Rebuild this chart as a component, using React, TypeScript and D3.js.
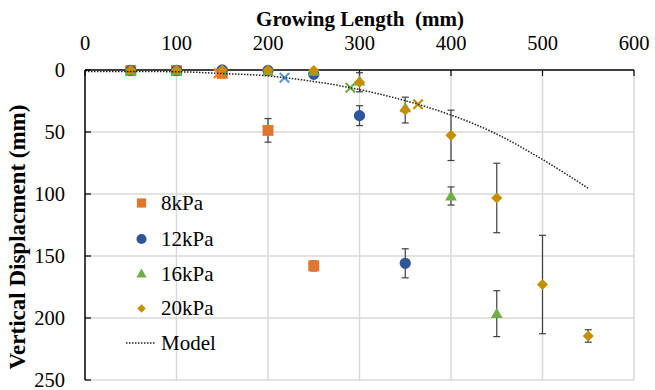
import React from "react";
import * as d3 from "d3";

const xTicks = [0, 100, 200, 300, 400, 500, 600];
const yTicks = [0, 50, 100, 150, 200, 250];

const x8 = [50, 100, 150, 200, 250];
const y8 = [0.5, 0.5, 2.7, 48.7, 158];
const e8 = [0, 0, 0, 9.5, 4];

const x12 = [50, 100, 150, 200, 250, 300, 350];
const y12 = [0.3, 0.3, 0, 0.3, 3.5, 36.8, 155.9];
const e12 = [0, 0, 0, 0, 0, 8, 11.7];

const x16 = [50, 100, 150, 200, 250, 300, 350, 400, 450];
const y16 = [0.5, 0.5, 1, 1, 1, 9, 30.5, 101.6, 196.5];
const e16 = [0, 0, 0, 0, 0, 0, 0, 7.3, 18.5];

const x20 = [50, 100, 150, 200, 250, 300, 350, 400, 450, 500, 550];
const y20 = [0, 0, 0, 0, 0.5, 9.9, 32.3, 52.7, 103.2, 173, 214.5];
const e20 = [0, 0, 0, 0, 0, 7.7, 10.4, 20.3, 28, 39.7, 5];

const modelX = [0, 50, 100, 146, 200, 218, 290, 364, 400, 448, 501, 550];
const modelY = [1.2, 1.2, 1.4, 2.7, 4.8, 6.2, 14.3, 27.7, 36.3, 51, 72.6, 95.4];

const crossX = [146, 218, 290, 364];
const crossY = [2.7, 6.2, 14.3, 27.7];
const crossColors = ["#ED7D31", "#5B9BD5", "#70AD47", "#BF9000"];

const seriesNames = ["8kPa", "12kPa", "16kPa", "20kPa"];
const colors = ["#E0762F", "#2F559A", "#70AD47", "#C49000"];
const shapes = [d3.symbolSquare, d3.symbolCircle, d3.symbolTriangle, d3.symbolSquare];

const W = 655, H = 390;
const FONT = "Liberation Serif, Times New Roman, serif";

export default function App() {
  const x = d3.scaleLinear().domain([0, 600]).range([85, 634]);
  const y = d3.scaleLinear().domain([0, 250]).range([70, 380]);

  const series = [
    { xs: x8, ys: y8, es: e8 },
    { xs: x12, ys: y12, es: e12 },
    { xs: x16, ys: y16, es: e16 },
    { xs: x20, ys: y20, es: e20 },
  ];
  const sizes = [120, 100, 60, 62];
  const legendSizes = [85, 80, 45, 36];

  const modelLine = d3
    .line<number>()
    .x((_, i) => x(modelX[i]))
    .y((d) => y(d))
    .curve(d3.curveMonotoneX)(modelY) as string;

  const legendY = [203, 239, 274.5, 308.5];
  const tf = { fontFamily: FONT };

  return (
    <svg width={W} height={H} style={{ position: "absolute", left: 0, top: 0, background: "#fff", fontFamily: FONT }}>
      {/* gridlines */}
      {xTicks.slice(1).map((t) => (
        <line key={"gx" + t} x1={x(t)} x2={x(t)} y1={y(0)} y2={y(250)} stroke="#d9d9d9" strokeWidth={1.5} />
      ))}
      {yTicks.slice(1).map((t) => (
        <line key={"gy" + t} x1={x(0)} x2={x(600)} y1={y(t)} y2={y(t)} stroke="#d9d9d9" strokeWidth={1.5} />
      ))}
      {/* axes */}
      <line x1={x(0)} x2={x(600)} y1={y(0)} y2={y(0)} stroke="#000" strokeWidth={1.5} />
      <line x1={x(0)} x2={x(0)} y1={y(0)} y2={y(250)} stroke="#000" strokeWidth={1.5} />
      {xTicks.map((t) => (
        <line key={"tx" + t} x1={x(t)} x2={x(t)} y1={y(0)} y2={y(0) + 6} stroke="#000" strokeWidth={1.2} />
      ))}
      {yTicks.map((t) => (
        <line key={"ty" + t} x1={x(0)} x2={x(0) + 6} y1={y(t)} y2={y(t)} stroke="#000" strokeWidth={1.2} />
      ))}
      {xTicks.map((t) => (
        <text key={"lx" + t} x={x(t)} y={50} fontSize={20.5} textAnchor="middle" fill="#000" style={tf}>
          {t}
        </text>
      ))}
      {yTicks.map((t) => (
        <text key={"ly" + t} x={65} y={y(t) + 7} fontSize={20.5} textAnchor="end" fill="#000" style={tf}>
          {t}
        </text>
      ))}
      <text x={360} y={25.5} fontSize={21} fontWeight="bold" textAnchor="middle" style={tf}>
        Growing Length&#160;&#160;(mm)
      </text>
      <text
        transform={`translate(25,237) rotate(-90)`}
        fontSize={23}
        fontWeight="bold"
        textAnchor="middle"
        style={tf}
      >
        Vertical Displacment (mm)
      </text>

      {/* error bars */}
      {series.map((s, si) =>
        s.xs.map((xv, i) =>
          s.es[i] > 0 ? (
            <g key={`e${si}-${i}`} stroke="#404040" strokeWidth={1.2}>
              <line x1={x(xv)} x2={x(xv)} y1={y(s.ys[i] - s.es[i])} y2={y(s.ys[i] + s.es[i])} />
              <line x1={x(xv) - 3.5} x2={x(xv) + 3.5} y1={y(s.ys[i] - s.es[i])} y2={y(s.ys[i] - s.es[i])} />
              <line x1={x(xv) - 3.5} x2={x(xv) + 3.5} y1={y(s.ys[i] + s.es[i])} y2={y(s.ys[i] + s.es[i])} />
            </g>
          ) : null
        )
      )}

      {/* markers */}
      {series.map((s, si) =>
        s.xs.map((xv, i) => (
          <path
            key={`m${si}-${i}`}
            d={d3.symbol().type(shapes[si]).size(sizes[si])() as string}
            transform={`translate(${x(xv)},${y(s.ys[i]) + (si === 2 ? 1 : 0)})${si === 3 ? " rotate(45)" : ""}`}
            fill={colors[si]}
          />
        ))
      )}

      {/* model cross points */}
      {crossX.map((cx, i) => (
        <path
          key={"c" + i}
          d={d3.symbol().type(d3.symbolX).size(60)() as string}
          transform={`translate(${x(cx)},${y(crossY[i])})`}
          stroke={crossColors[i]}
          strokeWidth={2.2}
          fill="none"
        />
      ))}

      {/* model line */}
      <path d={modelLine} fill="none" stroke="#222" strokeWidth={1.5} strokeDasharray="1.5,1.5" />

      {/* legend */}
      {seriesNames.map((n, i) => (
        <g key={"lg" + i}>
          <path
            d={d3.symbol().type(shapes[i]).size(legendSizes[i])() as string}
            transform={`translate(141.5,${legendY[i]})${i === 3 ? " rotate(45)" : ""}`}
            fill={colors[i]}
          />
          <text x={161} y={legendY[i] + 6.5} fontSize={21} style={tf}>
            {n}
          </text>
        </g>
      ))}
      <line x1={126} x2={155} y1={343} y2={343} stroke="#222" strokeWidth={1.5} strokeDasharray="1.5,1.5" />
      <text x={161} y={349.5} fontSize={21} style={tf}>
        Model
      </text>
    </svg>
  );
}
